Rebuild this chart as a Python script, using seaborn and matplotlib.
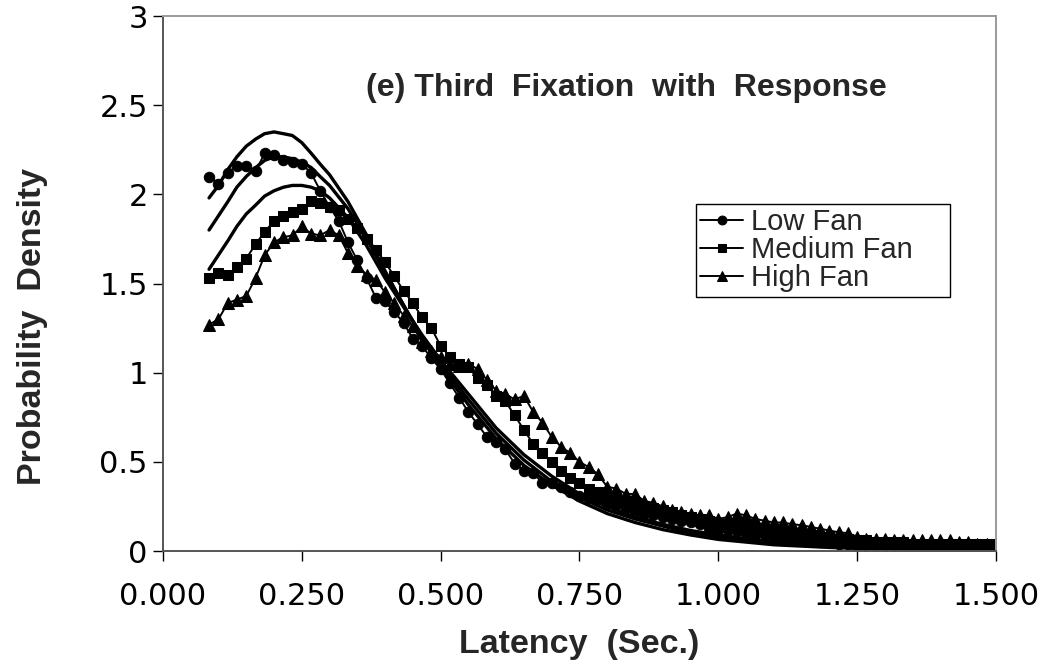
import matplotlib
matplotlib.use("Agg")
import numpy as np
import pandas as pd
import seaborn as sns
import matplotlib.pyplot as plt

# ---------------- data ----------------
# observed latencies sampled every 1/60 s from 5/60 to 90/60
x_obs = np.arange(5, 91) / 60.0

low_fan = [
    2.10, 2.06, 2.12, 2.16, 2.16, 2.13, 2.23, 2.22, 2.19, 2.18,
    2.17, 2.12, 2.02, 1.93, 1.85, 1.73, 1.63, 1.53, 1.42, 1.40,
    1.34, 1.28, 1.19, 1.15, 1.08, 1.02, 0.94, 0.86, 0.78, 0.71,
    0.64, 0.61, 0.57, 0.49, 0.45, 0.44, 0.38, 0.38, 0.36, 0.33,
    0.31, 0.30, 0.29, 0.27, 0.26, 0.24, 0.22, 0.21, 0.20, 0.19,
    0.18, 0.17, 0.16, 0.15, 0.13, 0.12, 0.12, 0.11, 0.10, 0.09,
    0.09, 0.08, 0.07, 0.07, 0.06, 0.06, 0.05, 0.05, 0.04, 0.04,
    0.03, 0.03, 0.03, 0.03, 0.03, 0.02, 0.02, 0.02, 0.02, 0.02,
    0.02, 0.02, 0.02, 0.02, 0.02, 0.02,
]
medium_fan = [
    1.53, 1.56, 1.55, 1.59, 1.64, 1.72, 1.79, 1.85, 1.88, 1.90,
    1.92, 1.96, 1.95, 1.93, 1.91, 1.86, 1.81, 1.75, 1.69, 1.62,
    1.54, 1.46, 1.39, 1.31, 1.25, 1.15, 1.09, 1.05, 1.03, 0.97,
    0.93, 0.87, 0.84, 0.76, 0.68, 0.60, 0.55, 0.50, 0.45, 0.41,
    0.38, 0.35, 0.33, 0.31, 0.29, 0.28, 0.27, 0.25, 0.24, 0.23,
    0.22, 0.20, 0.19, 0.18, 0.17, 0.15, 0.15, 0.14, 0.14, 0.13,
    0.12, 0.11, 0.11, 0.10, 0.09, 0.09, 0.08, 0.08, 0.07, 0.07,
    0.06, 0.06, 0.05, 0.05, 0.05, 0.05, 0.04, 0.04, 0.04, 0.04,
    0.04, 0.04, 0.04, 0.04, 0.04, 0.04,
]
high_fan = [
    1.27, 1.30, 1.39, 1.41, 1.43, 1.53, 1.66, 1.73, 1.76, 1.77,
    1.82, 1.78, 1.77, 1.80, 1.77, 1.67, 1.60, 1.55, 1.52, 1.45,
    1.39, 1.32, 1.26, 1.17, 1.12, 1.09, 1.05, 1.04, 1.05, 1.02,
    0.96, 0.90, 0.88, 0.85, 0.87, 0.78, 0.72, 0.64, 0.585, 0.55,
    0.50, 0.47, 0.43, 0.36, 0.35, 0.32, 0.32, 0.28, 0.27, 0.25,
    0.23, 0.22, 0.21, 0.20, 0.20, 0.18, 0.19, 0.21, 0.20, 0.18,
    0.17, 0.16, 0.16, 0.15, 0.145, 0.135, 0.125, 0.115, 0.105, 0.10,
    0.08, 0.07, 0.07, 0.07, 0.06, 0.06, 0.06, 0.06, 0.06, 0.06,
    0.06, 0.05, 0.05, 0.04, 0.04, 0.04,
]

# model predictions (smooth curves)
x_model = [0.083, 0.100, 0.117, 0.133, 0.150, 0.167, 0.183, 0.200, 0.217, 0.233,
           0.250, 0.267, 0.283, 0.300, 0.333, 0.367, 0.400, 0.433, 0.467, 0.500,
           0.550, 0.600, 0.650, 0.700, 0.750, 0.800, 0.850, 0.900, 0.950, 1.000,
           1.100, 1.200, 1.300, 1.400, 1.500]
low_model = [1.98, 2.05, 2.14, 2.21, 2.27, 2.31, 2.34, 2.35, 2.34, 2.33,
             2.29, 2.23, 2.17, 2.11, 1.96, 1.77, 1.57, 1.38, 1.19, 1.03,
             0.82, 0.63, 0.48, 0.37, 0.28, 0.21, 0.16, 0.12, 0.09, 0.065,
             0.035, 0.02, 0.01, 0.007, 0.005]
medium_model = [1.80, 1.88, 1.96, 2.04, 2.10, 2.15, 2.19, 2.21, 2.21, 2.20,
                2.18, 2.15, 2.10, 2.05, 1.92, 1.75, 1.56, 1.38, 1.20, 1.05,
                0.85, 0.66, 0.51, 0.39, 0.30, 0.23, 0.18, 0.14, 0.10, 0.08,
                0.045, 0.025, 0.015, 0.01, 0.007]
high_model = [1.58, 1.66, 1.74, 1.82, 1.89, 1.94, 1.99, 2.02, 2.04, 2.05,
              2.05, 2.04, 2.02, 1.98, 1.87, 1.71, 1.53, 1.37, 1.21, 1.07,
              0.88, 0.69, 0.54, 0.42, 0.32, 0.25, 0.19, 0.15, 0.115, 0.09,
              0.05, 0.03, 0.02, 0.012, 0.008]

series_names = ["Low Fan", "Medium Fan", "High Fan"]
x_ticks = [0.0, 0.25, 0.5, 0.75, 1.0, 1.25, 1.5]
x_tick_labels = ["0.000", "0.250", "0.500", "0.750", "1.000", "1.250", "1.500"]
y_ticks = [0, 0.5, 1, 1.5, 2, 2.5, 3]
y_tick_labels = ["0", "0.5", "1", "1.5", "2", "2.5", "3"]

# ---------------- figure ----------------
sns.set_theme(style="white")
plt.rcParams["font.family"] = ["Liberation Sans", "DejaVu Sans"]

fig = plt.figure(figsize=(10.5, 6.67), dpi=100)
ax = fig.add_axes([0.1552, 0.1739, 0.7933, 0.8021])

for ym in (low_model, medium_model, high_model):
    sns.lineplot(x=x_model, y=ym, color="black", linewidth=2.4,
                 estimator=None, sort=False, ax=ax)

handles = []
for ys, mk, ms in zip((low_fan, medium_fan, high_fan), ("o", "s", "^"), (7.5, 7.0, 8.0)):
    sns.lineplot(x=x_obs, y=ys, color="black", linewidth=1.4, marker=mk,
                 markersize=ms, markeredgecolor="black", markerfacecolor="black",
                 estimator=None, sort=False, ax=ax)
    handles.append(ax.lines[-1])

ax.set_xlim(0, 1.5)
ax.set_ylim(0, 3)
ax.set_xticks(x_ticks)
ax.set_xticklabels(x_tick_labels, fontfamily="DejaVu Sans")
ax.set_yticks(y_ticks)
ax.set_yticklabels(y_tick_labels, fontfamily="DejaVu Sans")
ax.tick_params(axis="both", which="major", direction="out", length=7, width=1,
               colors="black", labelsize=22, bottom=True, left=True)
ax.tick_params(axis="x", pad=15)
ax.tick_params(axis="y", pad=4)

for side in ("left", "bottom"):
    ax.spines[side].set_color("#555555")
    ax.spines[side].set_linewidth(1.4)
for side in ("top", "right"):
    ax.spines[side].set_color("#9a9a9a")
    ax.spines[side].set_linewidth(1.4)

ax.set_xlabel("Latency  (Sec.)", fontsize=24.5, fontweight="bold", labelpad=13)
ax.set_ylabel("Probability  Density", fontsize=24.5, fontweight="bold")
ax.yaxis.set_label_coords(-0.138, 0.42)

ax.text(0.556, 0.865, "(e) Third  Fixation  with  Response", transform=ax.transAxes,
        ha="center", va="center", fontsize=23, fontweight="bold")

leg = ax.legend(handles=handles, labels=series_names, loc="upper left",
                bbox_to_anchor=(0.640, 0.4785, 0.305, 0.1701), mode="expand",
                borderaxespad=0, fontsize=21,
                frameon=True, fancybox=False, framealpha=1, edgecolor="black",
                handlelength=1.45, handletextpad=0.3, labelspacing=0.0,
                borderpad=0.15, markerscale=0.85)
leg.get_frame().set_linewidth(1.0)

fig.savefig("out.png", dpi=100, facecolor="white")
